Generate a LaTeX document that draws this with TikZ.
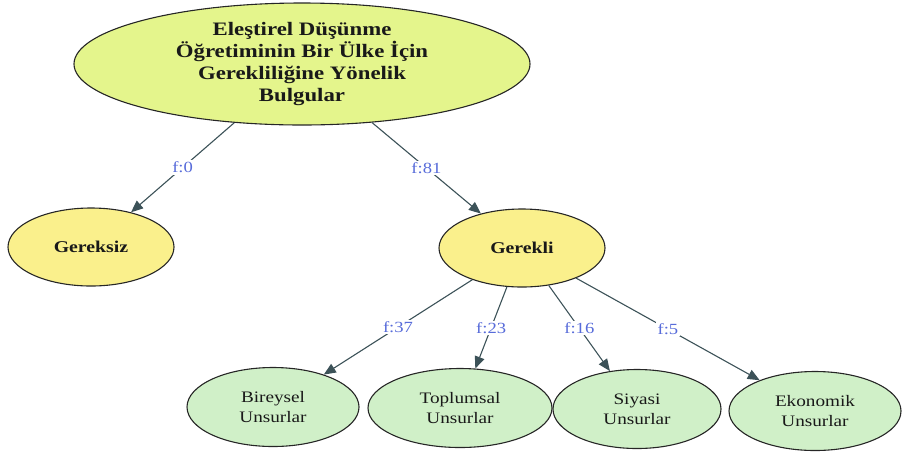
\documentclass[tikz,border=0pt]{standalone}
\usepackage{fontspec}
\setmainfont{Liberation Serif}
\newfontfamily\wideserif[FakeStretch=1.2]{Liberation Serif}
\usetikzlibrary{shapes.geometric,arrows.meta}
\definecolor{rootfill}{RGB}{228,245,140}
\definecolor{midfill}{RGB}{250,240,140}
\definecolor{leaffill}{RGB}{208,240,200}
\definecolor{edgecol}{RGB}{60,82,88}
\definecolor{labcol}{RGB}{88,108,218}
\tikzset{
  elli/.style={ellipse, draw=black!85, line width=1.1pt, inner sep=0pt, align=center, text=black!90},
  rootnode/.style={elli, fill=rootfill, minimum width=456pt, minimum height=122pt,
    font=\wideserif\bfseries\fontsize{19}{22}\selectfont},
  midnode/.style={elli, fill=midfill, minimum width=166pt, minimum height=78pt,
    font=\wideserif\bfseries\fontsize{16.5}{20}\selectfont},
  leafnode/.style={elli, fill=leaffill, minimum width=172pt, minimum height=79pt,
    font=\wideserif\fontsize{16}{20}\selectfont},
  edge/.style={draw=edgecol, line width=1.1pt, -{Triangle[length=12pt,width=10pt]}},
  lab/.style={fill=white, inner sep=1.5pt, text=labcol, font=\wideserif\fontsize{15.5}{18}\selectfont}
}
\begin{document}
\begin{tikzpicture}[x=1pt,y=-1pt]
\useasboundingbox (0,0) rectangle (904,451);
\node[rootnode] (root) at (302,64) {Eleştirel Düşünme\\Öğretiminin Bir Ülke İçin\\Gerekliliğine Yönelik\\Bulgular};
\node[midnode] (gereksiz) at (91,247) {Gereksiz};
\node[midnode] (gerekli) at (522,248) {Gerekli};
\node[leafnode] (bireysel) at (273,407) {Bireysel\\Unsurlar};
\node[leafnode, minimum width=184pt] (toplumsal) at (460,408) {Toplumsal\\Unsurlar};
\node[leafnode, minimum width=168pt] (siyasi) at (637,409) {Siyasi\\Unsurlar};
\node[leafnode] (ekonomik) at (815,411) {Ekonomik\\Unsurlar};
\draw[edge] (root) -- node[lab] {f:0} (gereksiz);
\draw[edge] (root) -- node[lab] {f:81} (gerekli);
\draw[edge] (gerekli) -- node[lab] {f:37} (bireysel);
\draw[edge] (gerekli) -- node[lab] {f:23} (toplumsal);
\draw[edge] (gerekli) -- node[lab] {f:16} (siyasi);
\draw[edge] (gerekli) -- node[lab] {f:5} (ekonomik);
\end{tikzpicture}
\end{document}
